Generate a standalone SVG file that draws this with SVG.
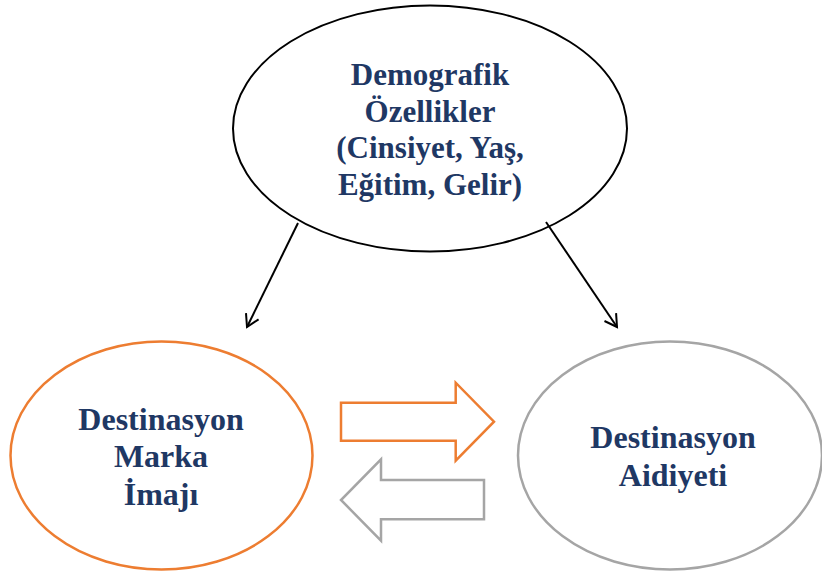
<svg xmlns="http://www.w3.org/2000/svg" width="822" height="574" viewBox="0 0 822 574">
<defs>
<style>
.t{font-family:"Liberation Serif","Times New Roman",serif;font-weight:bold;fill:#1F3864;text-anchor:middle}
.c{stroke:#000;stroke-width:2;fill:none}
</style>
<marker id="ah" markerWidth="16" markerHeight="16" refX="13" refY="8" orient="auto" markerUnits="userSpaceOnUse">
<path d="M1,1 L13,8 L1,15" fill="none" stroke="#000" stroke-width="2"/>
</marker>
</defs>
<rect width="822" height="574" fill="#fff"/>
<g id="demografik">
<ellipse cx="430" cy="128.5" rx="197" ry="123" fill="#fff" stroke="#000" stroke-width="2"/>
<text class="t" font-size="31" x="430" y="85">Demografik</text>
<text class="t" font-size="31" x="430" y="122">Özellikler</text>
<text class="t" font-size="31" x="430" y="158">(Cinsiyet, Yaş,</text>
<text class="t" font-size="31" x="430" y="195">Eğitim, Gelir)</text>
</g>
<g id="marka">
<ellipse cx="161.5" cy="455.5" rx="151" ry="114" fill="#fff" stroke="#ED7D31" stroke-width="2.5"/>
<text class="t" font-size="32" x="161" y="430">Destinasyon</text>
<text class="t" font-size="32" x="161" y="467">Marka</text>
<text class="t" font-size="32" x="161" y="505">İmajı</text>
</g>
<g id="aidiyet">
<ellipse cx="670" cy="455.5" rx="152" ry="114" fill="#fff" stroke="#A5A5A5" stroke-width="2.5"/>
<text class="t" font-size="32" x="673" y="448">Destinasyon</text>
<text class="t" font-size="32" x="673" y="486">Aidiyeti</text>
</g>
<g id="connectors">
<line class="c" x1="298" y1="223" x2="247" y2="327" marker-end="url(#ah)"/>
<line class="c" x1="546" y1="222" x2="617" y2="327" marker-end="url(#ah)"/>
<path d="M341,402.7 L455.7,402.7 L455.7,382.7 L494,421.7 L455.7,460.7 L455.7,440.7 L341,440.7 Z" fill="#fff" stroke="#ED7D31" stroke-width="2.5"/>
<path d="M484,480 L381,480 L381,459.3 L341,500 L381,540.7 L381,519.3 L484,519.3 Z" fill="#fff" stroke="#A5A5A5" stroke-width="2.5"/>
</g>
</svg>
